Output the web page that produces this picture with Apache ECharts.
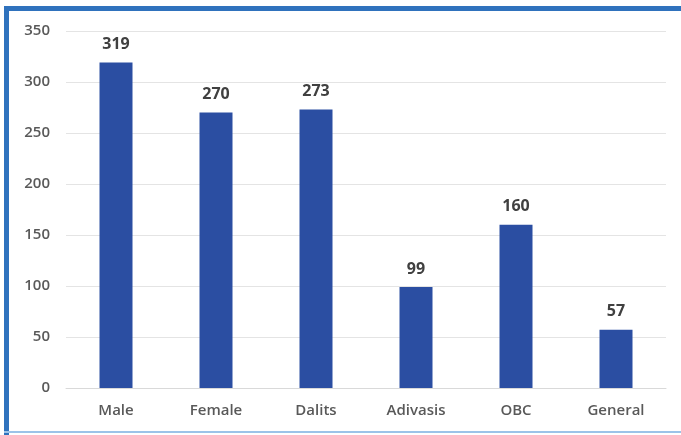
<!DOCTYPE html>
<html>
<head>
<meta charset="utf-8">
<script src="https://cdn.jsdelivr.net/npm/echarts@6/dist/echarts.min.js"></script>
<style>
html,body{margin:0;padding:0;background:#fff;}
#c{width:681px;height:435px;}
</style>
</head>
<body>
<div id="c"></div>
<script>
const categories = ['Male','Female','Dalits','Adivasis','OBC','General'];
const values = [319, 270, 273, 99, 160, 57];
const yTicks = [0, 50, 100, 150, 200, 250, 300, 350];

const chart = echarts.init(document.getElementById('c'), null, {renderer:'canvas'});
chart.setOption({
  backgroundColor: '#ffffff',
  animation: false,
  graphic: [
    {type:'rect', shape:{x:4, y:6, width:677, height:5}, style:{fill:'#2f72bd'}},
    {type:'rect', shape:{x:4, y:6, width:5, height:429}, style:{fill:'#2f72bd'}},
    {type:'rect', shape:{x:4, y:431, width:677, height:2}, style:{fill:'#9cc3e8'}}
  ],
  grid: {left: 66, right: 15, top: 31, bottom: 47},
  xAxis: {
    type: 'category',
    data: categories,
    axisLine: {show: true, lineStyle: {color: '#d9d9d9', width: 1}},
    axisTick: {show: false},
    axisLabel: {color: '#595959', fontSize: 15, fontWeight: 600, fontFamily: 'Open Sans', margin: 15}
  },
  yAxis: {
    type: 'value',
    min: yTicks[0],
    max: yTicks[yTicks.length - 1],
    interval: 50,
    axisLine: {show: false},
    axisTick: {show: false},
    splitLine: {lineStyle: {color: '#e4e4e4', width: 1}},
    axisLabel: {color: '#595959', fontSize: 15, fontWeight: 600, fontFamily: 'Open Sans', margin: 16}
  },
  series: [{
    type: 'bar',
    data: values,
    barWidth: 33,
    itemStyle: {color: '#2b4ea2'},
    label: {show: true, position: 'top', distance: 10, color: '#404040', fontSize: 16, fontWeight: 'bold', fontFamily: 'Open Sans'}
  }]
});
</script>
</body>
</html>
